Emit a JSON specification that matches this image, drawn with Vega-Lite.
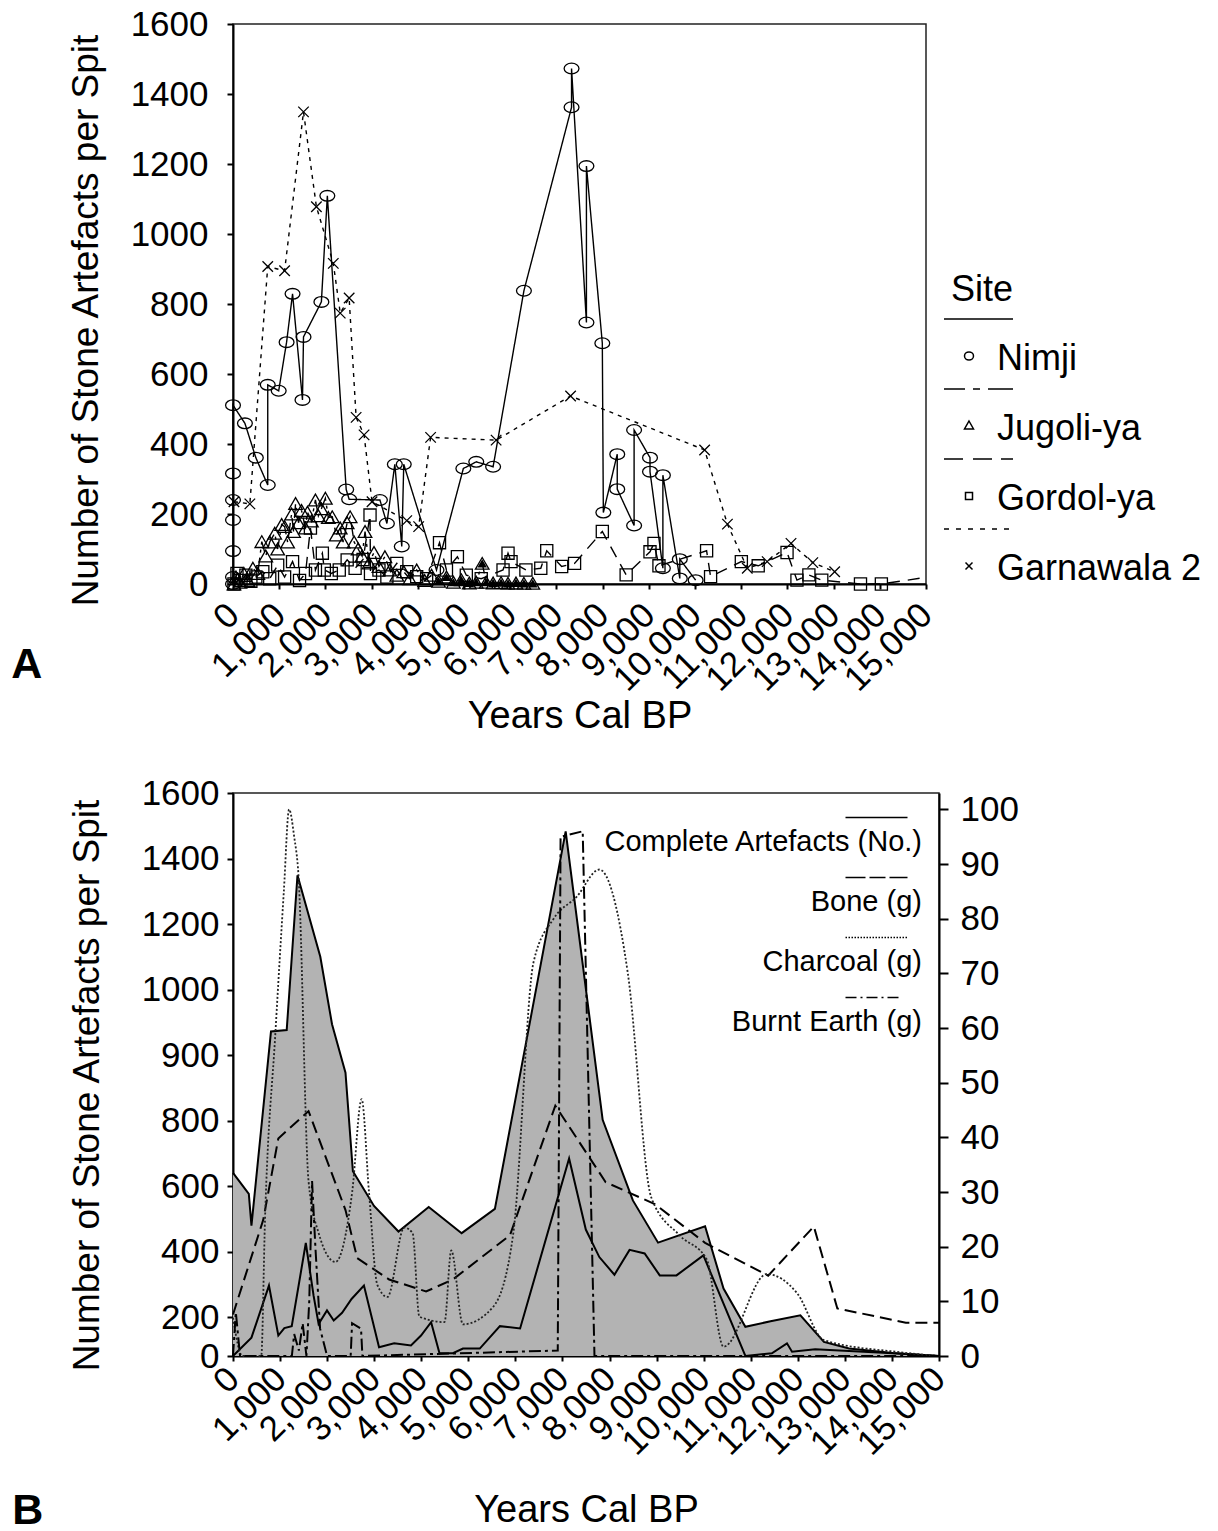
{
"$schema": "https://vega.github.io/schema/vega-lite/v6.json",
"padding": {"left": 10, "top": 6, "right": 2, "bottom": 0},
"config": {
  "font": "Liberation Sans",
  "view": {"stroke": "#222222", "strokeWidth": 1.5},
  "axis": {"grid": false, "domainColor": "black", "domainWidth": 2, "tickColor": "black", "tickWidth": 2, "labelColor": "black", "titleColor": "black", "labelFontSize": 35, "titleFontSize": 37, "titleFontWeight": "normal", "labelFlush": false, "labelOverlap": false, "labelBound": false},
  "legend": {"labelColor": "black", "titleColor": "black", "titleFontWeight": "normal", "padding": 0}
},
"datasets": {
  "siteA": [
    {"site":"Nimji","i":0,"yr":0,"v":0},{"site":"Nimji","i":1,"yr":0,"v":20},{"site":"Nimji","i":2,"yr":0,"v":94},{"site":"Nimji","i":3,"yr":0,"v":183},{"site":"Nimji","i":4,"yr":0,"v":240},{"site":"Nimji","i":5,"yr":0,"v":316},{"site":"Nimji","i":6,"yr":0,"v":511},{"site":"Nimji","i":7,"yr":258,"v":459},{"site":"Nimji","i":8,"yr":494,"v":361},{"site":"Nimji","i":9,"yr":752,"v":283},{"site":"Nimji","i":10,"yr":752,"v":569},{"site":"Nimji","i":11,"yr":989,"v":552},{"site":"Nimji","i":12,"yr":1160,"v":691},{"site":"Nimji","i":13,"yr":1289,"v":829},{"site":"Nimji","i":14,"yr":1504,"v":526},{"site":"Nimji","i":15,"yr":1526,"v":706},{"site":"Nimji","i":16,"yr":1913,"v":806},{"site":"Nimji","i":17,"yr":2042,"v":1109},{"site":"Nimji","i":18,"yr":2450,"v":270},{"site":"Nimji","i":19,"yr":2514,"v":242},{"site":"Nimji","i":20,"yr":3180,"v":240},{"site":"Nimji","i":21,"yr":3331,"v":173},{"site":"Nimji","i":22,"yr":3503,"v":342},{"site":"Nimji","i":23,"yr":3653,"v":107},{"site":"Nimji","i":24,"yr":3696,"v":342},{"site":"Nimji","i":25,"yr":4405,"v":40},{"site":"Nimji","i":26,"yr":4986,"v":330},{"site":"Nimji","i":27,"yr":5265,"v":349},{"site":"Nimji","i":28,"yr":5630,"v":335},{"site":"Nimji","i":29,"yr":6297,"v":838},{"site":"Nimji","i":30,"yr":7328,"v":1362},{"site":"Nimji","i":31,"yr":7328,"v":1473},{"site":"Nimji","i":32,"yr":7650,"v":747},{"site":"Nimji","i":33,"yr":7650,"v":1194},{"site":"Nimji","i":34,"yr":7994,"v":688},{"site":"Nimji","i":35,"yr":8016,"v":204},{"site":"Nimji","i":36,"yr":8317,"v":371},{"site":"Nimji","i":37,"yr":8317,"v":271},{"site":"Nimji","i":38,"yr":8682,"v":167},{"site":"Nimji","i":39,"yr":8682,"v":440},{"site":"Nimji","i":40,"yr":9026,"v":361},{"site":"Nimji","i":41,"yr":9026,"v":321},{"site":"Nimji","i":42,"yr":9305,"v":45},{"site":"Nimji","i":43,"yr":9305,"v":311},{"site":"Nimji","i":44,"yr":9671,"v":16},{"site":"Nimji","i":45,"yr":9671,"v":71},{"site":"Nimji","i":46,"yr":10014,"v":11},
    {"site":"Jugoli-ya","i":0,"yr":21,"v":0},{"site":"Jugoli-ya","i":1,"yr":64,"v":20},{"site":"Jugoli-ya","i":2,"yr":150,"v":5},{"site":"Jugoli-ya","i":3,"yr":236,"v":30},{"site":"Jugoli-ya","i":4,"yr":322,"v":10},{"site":"Jugoli-ya","i":5,"yr":430,"v":45},{"site":"Jugoli-ya","i":6,"yr":537,"v":30},{"site":"Jugoli-ya","i":7,"yr":623,"v":121},{"site":"Jugoli-ya","i":8,"yr":709,"v":80},{"site":"Jugoli-ya","i":9,"yr":795,"v":120},{"site":"Jugoli-ya","i":10,"yr":903,"v":145},{"site":"Jugoli-ya","i":11,"yr":967,"v":100},{"site":"Jugoli-ya","i":12,"yr":1053,"v":170},{"site":"Jugoli-ya","i":13,"yr":1117,"v":164},{"site":"Jugoli-ya","i":14,"yr":1182,"v":120},{"site":"Jugoli-ya","i":15,"yr":1268,"v":200},{"site":"Jugoli-ya","i":16,"yr":1311,"v":150},{"site":"Jugoli-ya","i":17,"yr":1354,"v":230},{"site":"Jugoli-ya","i":18,"yr":1418,"v":175},{"site":"Jugoli-ya","i":19,"yr":1483,"v":210},{"site":"Jugoli-ya","i":20,"yr":1569,"v":160},{"site":"Jugoli-ya","i":21,"yr":1612,"v":205},{"site":"Jugoli-ya","i":22,"yr":1698,"v":180},{"site":"Jugoli-ya","i":23,"yr":1784,"v":240},{"site":"Jugoli-ya","i":24,"yr":1848,"v":195},{"site":"Jugoli-ya","i":25,"yr":1913,"v":215},{"site":"Jugoli-ya","i":26,"yr":1999,"v":245},{"site":"Jugoli-ya","i":27,"yr":2063,"v":190},{"site":"Jugoli-ya","i":28,"yr":2149,"v":192},{"site":"Jugoli-ya","i":29,"yr":2235,"v":140},{"site":"Jugoli-ya","i":30,"yr":2321,"v":160},{"site":"Jugoli-ya","i":31,"yr":2385,"v":120},{"site":"Jugoli-ya","i":32,"yr":2471,"v":175},{"site":"Jugoli-ya","i":33,"yr":2536,"v":192},{"site":"Jugoli-ya","i":34,"yr":2622,"v":120},{"site":"Jugoli-ya","i":35,"yr":2708,"v":100},{"site":"Jugoli-ya","i":36,"yr":2794,"v":80},{"site":"Jugoli-ya","i":37,"yr":2858,"v":150},{"site":"Jugoli-ya","i":38,"yr":2944,"v":60},{"site":"Jugoli-ya","i":39,"yr":3052,"v":90},{"site":"Jugoli-ya","i":40,"yr":3159,"v":50},{"site":"Jugoli-ya","i":41,"yr":3288,"v":78},{"site":"Jugoli-ya","i":42,"yr":3395,"v":40},{"site":"Jugoli-ya","i":43,"yr":3546,"v":25},{"site":"Jugoli-ya","i":44,"yr":3696,"v":35},{"site":"Jugoli-ya","i":45,"yr":3825,"v":15},{"site":"Jugoli-ya","i":46,"yr":3976,"v":40},{"site":"Jugoli-ya","i":47,"yr":4148,"v":10},{"site":"Jugoli-ya","i":48,"yr":4298,"v":25},{"site":"Jugoli-ya","i":49,"yr":4449,"v":8},{"site":"Jugoli-ya","i":50,"yr":4621,"v":20},{"site":"Jugoli-ya","i":51,"yr":4771,"v":5},{"site":"Jugoli-ya","i":52,"yr":4943,"v":12},{"site":"Jugoli-ya","i":53,"yr":5115,"v":3},{"site":"Jugoli-ya","i":54,"yr":5265,"v":5},{"site":"Jugoli-ya","i":55,"yr":5394,"v":59},{"site":"Jugoli-ya","i":56,"yr":5480,"v":5},{"site":"Jugoli-ya","i":57,"yr":5630,"v":3},{"site":"Jugoli-ya","i":58,"yr":5802,"v":4},{"site":"Jugoli-ya","i":59,"yr":5953,"v":2},{"site":"Jugoli-ya","i":60,"yr":6125,"v":3},{"site":"Jugoli-ya","i":61,"yr":6297,"v":2},{"site":"Jugoli-ya","i":62,"yr":6490,"v":2},
    {"site":"Gordol-ya","i":0,"yr":21,"v":0},{"site":"Gordol-ya","i":1,"yr":86,"v":30},{"site":"Gordol-ya","i":2,"yr":172,"v":10},{"site":"Gordol-ya","i":3,"yr":279,"v":25},{"site":"Gordol-ya","i":4,"yr":387,"v":8},{"site":"Gordol-ya","i":5,"yr":494,"v":20},{"site":"Gordol-ya","i":6,"yr":645,"v":35},{"site":"Gordol-ya","i":7,"yr":795,"v":15},{"site":"Gordol-ya","i":8,"yr":967,"v":54},{"site":"Gordol-ya","i":9,"yr":1117,"v":20},{"site":"Gordol-ya","i":10,"yr":1289,"v":64},{"site":"Gordol-ya","i":11,"yr":1440,"v":10},{"site":"Gordol-ya","i":12,"yr":1569,"v":30},{"site":"Gordol-ya","i":13,"yr":1676,"v":160},{"site":"Gordol-ya","i":14,"yr":1784,"v":40},{"site":"Gordol-ya","i":15,"yr":1934,"v":88},{"site":"Gordol-ya","i":16,"yr":1977,"v":40},{"site":"Gordol-ya","i":17,"yr":2128,"v":30},{"site":"Gordol-ya","i":18,"yr":2300,"v":40},{"site":"Gordol-ya","i":19,"yr":2471,"v":69},{"site":"Gordol-ya","i":20,"yr":2643,"v":45},{"site":"Gordol-ya","i":21,"yr":2815,"v":70},{"site":"Gordol-ya","i":22,"yr":2966,"v":197},{"site":"Gordol-ya","i":23,"yr":2976,"v":30},{"site":"Gordol-ya","i":24,"yr":3159,"v":40},{"site":"Gordol-ya","i":25,"yr":3331,"v":20},{"site":"Gordol-ya","i":26,"yr":3546,"v":59},{"site":"Gordol-ya","i":27,"yr":3761,"v":35},{"site":"Gordol-ya","i":28,"yr":3976,"v":21},{"site":"Gordol-ya","i":29,"yr":4191,"v":15},{"site":"Gordol-ya","i":30,"yr":4470,"v":118},{"site":"Gordol-ya","i":31,"yr":4620,"v":40},{"site":"Gordol-ya","i":32,"yr":4857,"v":78},{"site":"Gordol-ya","i":33,"yr":5050,"v":25},{"site":"Gordol-ya","i":34,"yr":5373,"v":15},{"site":"Gordol-ya","i":35,"yr":5845,"v":40},{"site":"Gordol-ya","i":36,"yr":5953,"v":88},{"site":"Gordol-ya","i":37,"yr":6018,"v":64},{"site":"Gordol-ya","i":38,"yr":6340,"v":40},{"site":"Gordol-ya","i":39,"yr":6662,"v":45},{"site":"Gordol-ya","i":40,"yr":6791,"v":95},{"site":"Gordol-ya","i":41,"yr":7114,"v":50},{"site":"Gordol-ya","i":42,"yr":7393,"v":59},{"site":"Gordol-ya","i":43,"yr":7994,"v":150},{"site":"Gordol-ya","i":44,"yr":8510,"v":26},{"site":"Gordol-ya","i":45,"yr":9026,"v":92},{"site":"Gordol-ya","i":46,"yr":9112,"v":116},{"site":"Gordol-ya","i":47,"yr":9220,"v":52},{"site":"Gordol-ya","i":48,"yr":10251,"v":95},{"site":"Gordol-ya","i":49,"yr":10337,"v":21},{"site":"Gordol-ya","i":50,"yr":11003,"v":64},{"site":"Gordol-ya","i":51,"yr":11368,"v":52},{"site":"Gordol-ya","i":52,"yr":11992,"v":90},{"site":"Gordol-ya","i":53,"yr":12207,"v":11},{"site":"Gordol-ya","i":54,"yr":12465,"v":26},{"site":"Gordol-ya","i":55,"yr":12744,"v":11},{"site":"Gordol-ya","i":56,"yr":13582,"v":0},{"site":"Gordol-ya","i":57,"yr":14034,"v":0},{"site":"Gordol-ya","i":58,"yr":15000,"v":19},
    {"site":"Garnawala 2","i":0,"yr":21,"v":235},{"site":"Garnawala 2","i":1,"yr":365,"v":229},{"site":"Garnawala 2","i":2,"yr":752,"v":907},{"site":"Garnawala 2","i":3,"yr":1117,"v":895},{"site":"Garnawala 2","i":4,"yr":1526,"v":1349},{"site":"Garnawala 2","i":5,"yr":1805,"v":1078},{"site":"Garnawala 2","i":6,"yr":2171,"v":916},{"site":"Garnawala 2","i":7,"yr":2321,"v":774},{"site":"Garnawala 2","i":8,"yr":2514,"v":817},{"site":"Garnawala 2","i":9,"yr":2665,"v":476},{"site":"Garnawala 2","i":10,"yr":2837,"v":426},{"site":"Garnawala 2","i":11,"yr":3009,"v":235},{"site":"Garnawala 2","i":12,"yr":3761,"v":181},{"site":"Garnawala 2","i":13,"yr":4019,"v":164},{"site":"Garnawala 2","i":14,"yr":4277,"v":419},{"site":"Garnawala 2","i":15,"yr":5695,"v":411},{"site":"Garnawala 2","i":16,"yr":7307,"v":537},{"site":"Garnawala 2","i":17,"yr":10208,"v":383},{"site":"Garnawala 2","i":18,"yr":10702,"v":171},{"site":"Garnawala 2","i":19,"yr":11132,"v":45},{"site":"Garnawala 2","i":20,"yr":11562,"v":64},{"site":"Garnawala 2","i":21,"yr":12078,"v":116},{"site":"Garnawala 2","i":22,"yr":12550,"v":61},{"site":"Garnawala 2","i":23,"yr":13023,"v":35}
  ],
  "total": [
    {"yr":0,"v":640},{"yr":336,"v":576},{"yr":392,"v":479},{"yr":807,"v":936},{"yr":1141,"v":938},{"yr":1370,"v":1349},{"yr":1855,"v":1100},{"yr":2104,"v":947},{"yr":2390,"v":873},{"yr":2547,"v":645},{"yr":2996,"v":539},{"yr":3516,"v":461},{"yr":4158,"v":536},{"yr":4858,"v":456},{"yr":5564,"v":530},{"yr":7068,"v":1483},{"yr":7854,"v":801},{"yr":8496,"v":556},{"yr":9031,"v":427},{"yr":10030,"v":477},{"yr":10422,"v":287},{"yr":10886,"v":150},{"yr":11421,"v":178},{"yr":12055,"v":205},{"yr":12555,"v":72},{"yr":13090,"v":38},{"yr":14017,"v":16},{"yr":15000,"v":0}
  ],
  "complete": [
    {"yr":0,"v":0},{"yr":392,"v":94},{"yr":764,"v":296},{"yr":963,"v":105},{"yr":1091,"v":143},{"yr":1248,"v":153},{"yr":1547,"v":426},{"yr":1712,"v":265},{"yr":1819,"v":164},{"yr":1997,"v":220},{"yr":2140,"v":182},{"yr":2318,"v":213},{"yr":2519,"v":255},{"yr":2782,"v":296},{"yr":3103,"v":45},{"yr":3424,"v":65},{"yr":3781,"v":54},{"yr":3995,"v":105},{"yr":4209,"v":173},{"yr":4387,"v":14},{"yr":4672,"v":14},{"yr":4886,"v":38},{"yr":5243,"v":38},{"yr":5671,"v":153},{"yr":6100,"v":141},{"yr":7141,"v":684},{"yr":7496,"v":467},{"yr":7783,"v":383},{"yr":8104,"v":329},{"yr":8425,"v":405},{"yr":8746,"v":394},{"yr":9067,"v":327},{"yr":9422,"v":327},{"yr":9994,"v":388},{"yr":10886,"v":0},{"yr":11449,"v":14},{"yr":11770,"v":65},{"yr":11877,"v":22},{"yr":12369,"v":34},{"yr":14017,"v":14},{"yr":15000,"v":0}
  ],
  "bone": [
    {"yr":0,"v":7.6},{"yr":642,"v":24.9},{"yr":963,"v":39.8},{"yr":1605,"v":44.8},{"yr":2390,"v":26.7},{"yr":2639,"v":17.9},{"yr":3317,"v":14},{"yr":4102,"v":11.8},{"yr":4672,"v":14},{"yr":5885,"v":22.1},{"yr":6848,"v":45.8},{"yr":7918,"v":31.8},{"yr":8960,"v":27.8},{"yr":10030,"v":20.7},{"yr":11370,"v":14.7},{"yr":12341,"v":23.7},{"yr":12840,"v":8.7},{"yr":14295,"v":6.1},{"yr":15000,"v":6.1}
  ],
  "charcoal": [
    {"yr":0,"v":7},{"yr":200,"v":0},{"yr":600,"v":0},{"yr":680,"v":25},{"yr":900,"v":59},{"yr":1080,"v":85},{"yr":1192,"v":100},{"yr":1300,"v":95},{"yr":1391,"v":88},{"yr":1605,"v":32},{"yr":1819,"v":22.5},{"yr":2176,"v":17.2},{"yr":2532,"v":30},{"yr":2733,"v":47},{"yr":2889,"v":30},{"yr":3067,"v":13},{"yr":3281,"v":10.8},{"yr":3638,"v":23.5},{"yr":3816,"v":22.5},{"yr":3959,"v":7.2},{"yr":4494,"v":6.2},{"yr":4637,"v":19.3},{"yr":4886,"v":5.8},{"yr":5528,"v":9},{"yr":5956,"v":22.5},{"yr":6384,"v":72},{"yr":6812,"v":80},{"yr":7300,"v":84},{"yr":7783,"v":89},{"yr":8389,"v":70},{"yr":8887,"v":29},{"yr":9500,"v":22},{"yr":10064,"v":17.7},{"yr":10422,"v":1.7},{"yr":11342,"v":15},{"yr":11984,"v":11.5},{"yr":12555,"v":2.9},{"yr":14160,"v":0.7},{"yr":15000,"v":0}
  ],
  "burnt": [
    {"yr":0,"v":0},{"yr":60,"v":8},{"yr":150,"v":0},{"yr":1250,"v":0},{"yr":1300,"v":4},{"yr":1400,"v":1},{"yr":1480,"v":6},{"yr":1560,"v":0},{"yr":1620,"v":10},{"yr":1680,"v":32},{"yr":1750,"v":20},{"yr":1850,"v":5},{"yr":2000,"v":0},{"yr":2500,"v":0},{"yr":2530,"v":6},{"yr":2720,"v":5},{"yr":2750,"v":0},{"yr":6900,"v":1},{"yr":6960,"v":95},{"yr":7430,"v":96},{"yr":7680,"v":0},{"yr":15000,"v":0}
  ]
},
"concat": [
  {
    "width": 693, "height": 560,
    "title": {"text": "A", "orient": "bottom", "anchor": "start", "frame": "bounds", "fontSize": 43, "fontWeight": "bold", "color": "black", "offset": 0, "dx": -56, "dy": -91},
    "data": {"name": "siteA"},
    "encoding": {
      "x": {"field": "yr", "type": "quantitative", "scale": {"domain": [0, 15000], "nice": false},
        "axis": {"values": [0,1000,2000,3000,4000,5000,6000,7000,8000,9000,10000,11000,12000,13000,14000,15000], "format": ",d", "labelAngle": -45, "labelAlign": "right", "labelBaseline": "middle", "tickSize": 5, "labelPadding": 20, "title": "Years Cal BP", "titleFontSize": 38, "titleY": 143, "titleBaseline": "alphabetic"}},
      "y": {"field": "v", "type": "quantitative", "scale": {"domain": [0, 1600], "nice": false},
        "axis": {"values": [0,200,400,600,800,1000,1200,1400,1600], "format": "d", "tickSize": 6, "labelPadding": 19, "title": "Number of Stone Artefacts per Spit", "titlePadding": 25, "titleY": 296}}
    },
    "layer": [
      {
        "mark": {"type": "line", "color": "black", "strokeWidth": 1.4},
        "encoding": {
          "detail": {"field": "site", "type": "nominal"},
          "strokeDash": {"field": "site", "type": "nominal", "scale": {"domain": ["Nimji", "Jugoli-ya", "Gordol-ya", "Garnawala 2"], "range": [[1, 0], [14, 5, 3, 5], [12, 8], [4, 5]]}, "legend": null},
          "order": {"field": "i", "type": "quantitative"}
        }
      },
      {
        "transform": [{"filter": "datum.yr < 15000"}],
        "mark": {"type": "point", "filled": false, "color": "black", "strokeWidth": 1.3, "opacity": 1},
        "encoding": {
          "shape": {"field": "site", "type": "nominal", "scale": {"domain": ["Nimji", "Jugoli-ya", "Gordol-ya", "Garnawala 2"], "range": ["M-1,0A1,0.72 0 1,1 1,0A1,0.72 0 1,1 -1,0Z", "triangle-up", "square", "M-1,-1L1,1M1,-1L-1,1"]}, "legend": null},
          "size": {"field": "site", "type": "nominal", "scale": {"domain": ["Nimji", "Jugoli-ya", "Gordol-ya", "Garnawala 2"], "range": [220, 110, 100, 90]}, "legend": null}
        }
      },
      {
        "transform": [{"filter": "datum.site == 'Jugoli-ya' && datum.yr > 4300"}],
        "mark": {"type": "point", "shape": "triangle-up", "filled": true, "color": "black", "size": 90, "opacity": 1}
      },
      {
        "transform": [{"filter": "false"}],
        "mark": {"type": "point", "filled": false, "color": "black", "strokeWidth": 1.6, "opacity": 1},
        "encoding": {
          "shape": {"field": "site", "type": "nominal",
            "scale": {"domain": ["Nimji", "Jugoli-ya", "Gordol-ya", "Garnawala 2"],
              "range": [
                "M-2.5,-4H4.4M-0.45,-0.3A0.45,0.4 0 1,1 0.45,-0.3A0.45,0.4 0 1,1 -0.45,-0.3Z",
                "M-2.5,-4H-0.4M0.4,-4H1.1M1.9,-4H4.4M0,-0.8L0.45,0L-0.45,0Z",
                "M-2.5,-4H-0.6M0.4,-4H2.3M3.2,-4H4.4M-0.35,-0.65H0.35V0.05H-0.35Z",
                "M-2.5,-4H-2M-1.3,-4H-0.8M-0.1,-4H0.4M1.1,-4H1.6M2.3,-4H2.8M3.5,-4H4M-0.35,-0.65L0.35,0.05M0.35,-0.65L-0.35,0.05"
              ]},
            "legend": {"title": "Site", "orient": "none", "legendX": 718, "legendY": 249, "titleFontSize": 36, "titlePadding": 32, "labelFontSize": 36, "labelOffset": 10, "labelLimit": 400, "symbolSize": 400, "symbolStrokeColor": "black", "symbolStrokeWidth": 1.5, "symbolFillColor": "transparent", "rowPadding": 9, "padding": 0}
          }
        }
      }
    ],
    "resolve": {"scale": {"shape": "independent"}}
  },
  {
    "width": 706, "height": 563,
    "title": {"text": "B", "orient": "bottom", "anchor": "start", "frame": "bounds", "fontSize": 43, "fontWeight": "bold", "color": "black", "offset": 0, "dx": -56, "dy": -39},
    "encoding": {
      "x": {"field": "yr", "type": "quantitative", "scale": {"domain": [0, 15000], "nice": false},
        "axis": {"values": [0,1000,2000,3000,4000,5000,6000,7000,8000,9000,10000,11000,12000,13000,14000,15000], "format": ",d", "labelAngle": -45, "labelAlign": "right", "labelBaseline": "middle", "tickSize": 5, "labelPadding": 12, "title": "Years Cal BP", "titleFontSize": 38, "titleY": 165, "titleBaseline": "alphabetic"}}
    },
    "layer": [
      {
        "encoding": {"y": {"field": "v", "type": "quantitative",
          "scale": {"domain": [0, 200, 400, 600, 800, 900, 1000, 1200, 1400, 1600], "range": [563, 524, 458.5, 393, 327.5, 262, 196.5, 131, 65.5, 0], "nice": false},
          "axis": {"values": [0,200,400,600,800,900,1000,1200,1400,1600], "format": "d", "tickSize": 6, "labelPadding": 8, "title": "Number of Stone Artefacts per Spit", "titlePadding": 35, "titleY": 292}}},
        "layer": [
          {"data": {"name": "total"}, "mark": {"type": "area", "color": "#b3b3b3", "opacity": 1, "line": {"color": "black", "strokeWidth": 2}}, "encoding": {}},
          {"data": {"name": "complete"}, "mark": {"type": "line", "color": "black", "strokeWidth": 2}, "encoding": {}}
        ]
      },
      {
        "encoding": {"y": {"field": "v", "type": "quantitative", "scale": {"domain": [0, 103], "nice": false},
          "axis": {"orient": "right", "values": [0,10,20,30,40,50,60,70,80,90,100], "format": "d", "tickSize": 9, "labelPadding": 12, "title": null}}},
        "layer": [
          {"data": {"name": "bone"}, "mark": {"type": "line", "color": "black", "strokeWidth": 2, "strokeDash": [12, 6]}, "encoding": {}},
          {"data": {"name": "charcoal"}, "mark": {"type": "line", "color": "#222222", "strokeWidth": 1.8, "strokeDash": [2, 2], "interpolate": "monotone"}, "encoding": {}},
          {"data": {"name": "burnt"}, "mark": {"type": "line", "color": "black", "strokeWidth": 2, "strokeDash": [12, 4, 3, 4]}, "encoding": {}},
          {
            "data": {"name": "bone"},
            "transform": [{"filter": "false"}],
            "mark": {"type": "point", "filled": false, "color": "black", "strokeWidth": 1.5, "opacity": 1},
            "encoding": {
              "shape": {"field": "series", "type": "nominal",
                "scale": {"domain": ["Complete Artefacts (No.)", "Bone (g)", "Charcoal (g)", "Burnt Earth (g)"],
                  "range": [
                    "M-6.2,-2.4H0",
                    "M-6.2,-2.4H-4.2M-3.8,-2.4H-2.2M-1.8,-2.4H0",
                    "M-6.2,-2.4h0.15M-5.9,-2.4h0.15M-5.6,-2.4h0.15M-5.3,-2.4h0.15M-5,-2.4h0.15M-4.7,-2.4h0.15M-4.4,-2.4h0.15M-4.1,-2.4h0.15M-3.8,-2.4h0.15M-3.5,-2.4h0.15M-3.2,-2.4h0.15M-2.9,-2.4h0.15M-2.6,-2.4h0.15M-2.3,-2.4h0.15M-2,-2.4h0.15M-1.7,-2.4h0.15M-1.4,-2.4h0.15M-1.1,-2.4h0.15M-0.8,-2.4h0.15M-0.5,-2.4h0.15M-0.2,-2.4h0.15",
                    "M-6.2,-2.4H-5.1M-4.7,-2.4H-4.5M-4.1,-2.4H-3M-2.6,-2.4H-2.4M-2,-2.4H-0.9"
                  ]},
                "legend": {"title": null, "orient": "none", "legendX": 660, "legendY": 34, "padding": 0, "labelFontSize": 29, "labelAlign": "right", "labelOffset": 0, "labelLimit": 600, "symbolSize": 400, "symbolStrokeColor": "black", "symbolStrokeWidth": 1.5, "symbolFillColor": "transparent", "rowPadding": 17}
              }
            }
          }
        ]
      }
    ],
    "resolve": {"scale": {"y": "independent"}}
  }
],
"columns": 1,
"align": "none",
"spacing": 39,
"resolve": {"scale": {"x": "independent", "y": "independent", "shape": "independent"}}
}
